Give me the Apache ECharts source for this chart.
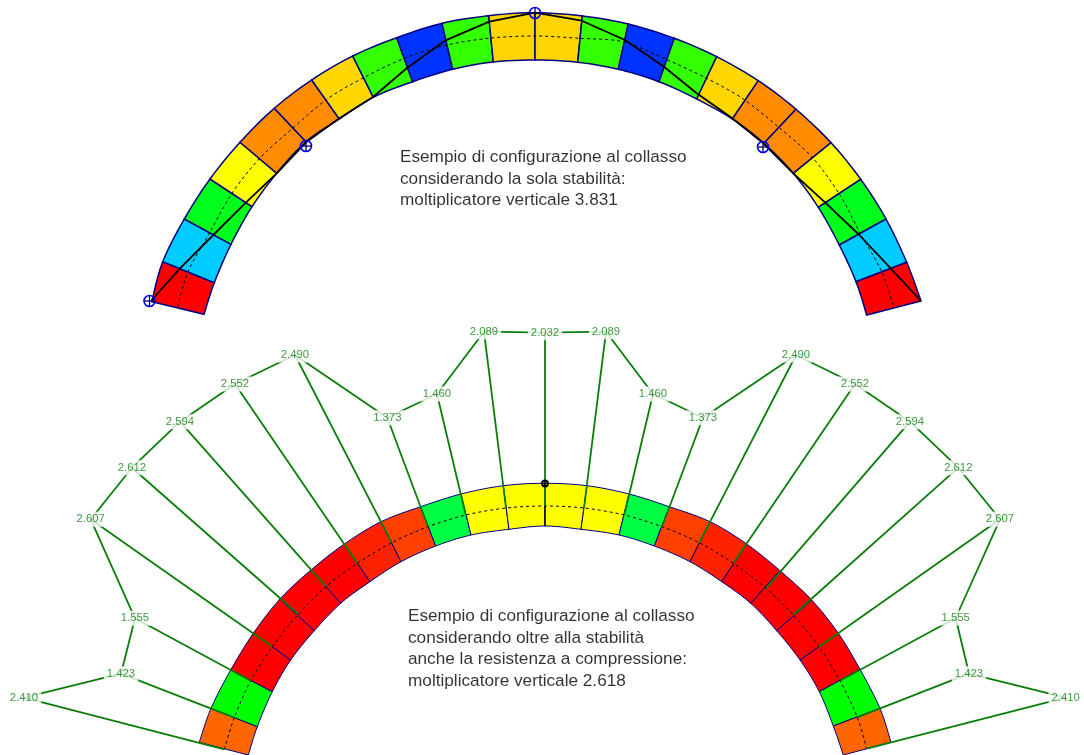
<!DOCTYPE html>
<html><head><meta charset="utf-8">
<style>html,body{margin:0;padding:0;background:#fff}#c{width:1084px;height:755px}</style>
<script src="https://cdn.jsdelivr.net/npm/echarts@6/dist/echarts.min.js"></script>
</head><body><div id="c"></div>
<script>
// Picture readings: the two arches, joint by joint from left to right
const topOuter = [[151.7,301.7],[162.7,261.7],[184.3,219],[210,179],[240,142.3],[274.3,108.3],[311.7,80],[352.7,56],[396.7,37.7],[442,23.3],[488.7,15.7],[535,12.7],[582.3,16],[628.3,24],[674.3,38.3],[716.7,56.7],[758.3,80.7],[796,109.3],[831,142.7],[860.7,179.3],[886,219],[906.7,262.3],[921,301]];
const topInner = [[204,314.3],[214.3,282.7],[231,244.3],[252,206.7],[276.7,173.3],[306,141.7],[339.3,119],[373.3,97.3],[412.7,81.7],[452.7,69.3],[493.3,62],[535,60],[577.7,62.3],[618.3,69.3],[659,81.7],[696.7,99],[732.3,119],[764,143.3],[793.3,173.3],[818.3,207.3],[839.3,245],[856,281.7],[866.7,315]];
const topMid = [[177.7,306.7],[188,271.7],[210,232],[233,191.7],[260,158],[293,128],[326.7,99.3],[363,78],[405,58],[446.7,45],[491,38],[535,36],[579.3,38.3],[623,41.7],[666,59.3],[706.7,78.3],[743.3,99],[780,128.3],[811.7,156.7],[840,195],[860,233],[881.7,271.7],[894,308]];
const topThrust = [[151.7,300],[180,268.3],[213.3,235],[245,203.3],[276.7,173.3],[306.7,141.7],[338.3,119],[373.3,96.7],[406.7,68.3],[445,40.7],[489.3,21.7],[535,12.7],[581.7,20.7],[625,40],[664,66.7],[696.7,93.3],[732.3,118.3],[763.3,143.3],[793.3,173.3],[825,202.3],[859.3,235],[890.7,268.3],[921,301]];
const topHinges = [[149.5,301],[306,146],[535,13],[763,147]];
const topColors = ['#FF0000','#00CCFF','#00FF1A','#FFFF00','#FF8C00','#FF8C00','#FFD700','#33FF00','#0033FF','#33FF00','#FFD500','#FFD500','#33FF00','#0033FF','#33FF00','#FFD700','#FF8C00','#FF8C00','#FFFF00','#00FF1A','#00CCFF','#FF0000'];

const botOuter = [[199.3,742.3],[211,708.3],[230.7,670],[253.3,633.3],[280,599],[311,570],[344.3,544],[381,521.7],[420.7,506.7],[461,494],[503.3,485.7],[545,483.3],[587,485.7],[629,494],[669.3,506.7],[710,521.7],[746.7,544],[780,570.7],[811.7,600],[838.3,633.3],[860,669.3],[880,708.3],[891,742.3]];
const botInner = [[248.3,755],[257.3,726.7],[272.3,691.7],[290.7,660],[314.3,630.7],[340.7,603.3],[370,581.7],[401,561.7],[435.7,546],[471,535],[509,529.3],[545,526],[581,529.3],[619,535],[654.3,546],[690,561.7],[721.7,581.7],[750.7,603.3],[776.7,630.7],[800,660],[819.3,691.7],[833.3,726],[843.3,755]];
const botMid = [[224.3,749.3],[234.3,717.7],[250.7,680.7],[272.3,646.7],[298.3,614.3],[326,586.7],[357.3,563.3],[391.7,542.7],[428,526.7],[465.7,515],[506,508],[545,506],[584,508],[624.3,515],[662,526.7],[699.3,542.7],[733.3,563.3],[766,588.3],[793.3,615],[819,646.7],[840,680.7],[857.3,717.3],[866.7,748.7]];
const botColors = ['#FF6600','#00FF00','#FF0000','#FF0000','#FF0000','#FF0000','#FF2200','#FF4000','#00FF44','#FFFF00','#FFFF00','#FFFF00','#FFFF00','#00FF44','#FF4000','#FF2200','#FF0000','#FF0000','#FF0000','#FF0000','#00FF00','#FF6600'];

const multipliers = ['2.410','1.423','1.555','2.607','2.612','2.594','2.552','2.490','1.373','1.460','2.089','2.032','2.089','1.460','1.373','2.490','2.552','2.594','2.612','2.607','1.555','1.423','2.410'];
const multiplierPos = [[24,697.7],[121,673.7],[135,618.3],[90.7,519.3],[132,467.7],[180,421.7],[235,384],[295,355],[387.3,417.7],[437,394],[484,331.7],[545,332.7],[606,331.7],[653,394],[703,417.7],[796,355],[855,384],[910,421.7],[958.3,467.7],[1000,519.3],[955.7,618],[969,673.7],[1065.7,697.7]];
const crownPoint = [[545,483.5]];

const noteLines = [
  'Esempio di configurazione al collasso','considerando la sola stabilità:','moltiplicatore verticale 3.831',
  'Esempio di configurazione al collasso','considerando oltre alla stabilità','anche la resistenza a compressione:','moltiplicatore verticale 2.618'];
const notePos = [[400,157],[400,179],[400,200],[408,616],[408,638],[408,659],[408,681]];

const NAVY = '#000080', GREEN = '#0A7D0A';

// Smooth the edge through the read joints (Catmull-Rom), so blocks follow the arch curve
function edge(line, i, steps) {
  const p0 = line[Math.max(i - 1, 0)], p1 = line[i], p2 = line[i + 1], p3 = line[Math.min(i + 2, line.length - 1)];
  const out = [];
  for (let k = 0; k <= steps; k++) {
    const t = k / steps, t2 = t * t, t3 = t2 * t;
    out.push([0, 1].map(d => 0.5 * (2 * p1[d] + (p2[d] - p0[d]) * t + (2 * p0[d] - 5 * p1[d] + 4 * p2[d] - p3[d]) * t2 + (3 * p1[d] - p0[d] - 3 * p2[d] + p3[d]) * t3)));
  }
  return out;
}
function blocks(name, outer, inner, colors, lw) {
  return {
    type: 'custom', name, silent: true, animation: false, z: 2, clip: false,
    data: colors.map((c, i) => [i]),
    renderItem(params, api) {
      const i = api.value(0);
      const pts = edge(outer, i, 6).concat(edge(inner, i, 6).reverse()).map(p => api.coord(p));
      return { type: 'polygon', shape: { points: pts }, style: { fill: colors[i], stroke: NAVY, lineWidth: lw } };
    }
  };
}
function poly(name, data, color, width, type, z, smooth) {
  return { type: 'line', name, data, showSymbol: false, silent: true, animation: false, z, clip: false, smooth: smooth || false,
    lineStyle: { color, width, type: type || 'solid', cap: 'butt' } };
}
function spokes(name, from, to, color, width, z) {
  return { type: 'custom', name, silent: true, animation: false, z, clip: false,
    data: from.map((c, i) => [i]),
    renderItem(params, api) {
      const i = api.value(0);
      const a = api.coord(from[i]), b = api.coord(to[i]);
      return { type: 'line', shape: { x1: a[0], y1: a[1], x2: b[0], y2: b[1] }, style: { stroke: color, lineWidth: width } };
    }
  };
}
function hinges(name, pts, color, r, w, crossColor) {
  return { type: 'custom', name, silent: true, animation: false, z: 8, clip: false,
    data: pts,
    renderItem(params, api) {
      const c = api.coord([api.value(0), api.value(1)]);
      const st = { stroke: color, lineWidth: w, fill: null };
      const cr = { stroke: crossColor, lineWidth: w * 0.8, fill: null };
      return { type: 'group', children: [
        { type: 'circle', shape: { cx: c[0], cy: c[1], r }, style: st },
        { type: 'line', shape: { x1: c[0] - r, y1: c[1], x2: c[0] + r, y2: c[1] }, style: cr },
        { type: 'line', shape: { x1: c[0], y1: c[1] - r, x2: c[0], y2: c[1] + r }, style: cr }
      ] };
    }
  };
}

const chart = echarts.init(document.getElementById('c'), null, { renderer: 'canvas' });
chart.setOption({
  animation: false,
  backgroundColor: '#fff',
  grid: { left: 0, right: 0, top: 0, bottom: 0 },
  xAxis: { type: 'value', min: 0, max: 1084, show: false },
  yAxis: { type: 'value', min: 0, max: 755, inverse: true, show: false },
  series: [
    blocks('top blocks', topOuter, topInner, topColors, 1.5),
    poly('top centre line', topMid, '#000', 1, [3, 3], 3, 0.3),
    poly('top thrust line', topThrust, '#000', 1.8, null, 4),
    hinges('top hinges', topHinges, '#0000FF', 5.5, 1.6, '#000060'),
    blocks('bottom blocks', botOuter, botInner, botColors, 1),
    poly('bottom centre line', botMid, '#000', 1, [3, 3], 3, 0.3),
    spokes('crown joint', [[545, 506]], [[545, 526]], '#000', 1.2, 4),
    spokes('multiplier spokes', multiplierPos, botMid, GREEN, 1.8, 5),
    poly('multiplier chain', multiplierPos, GREEN, 1.8, null, 5),
    hinges('crown point', crownPoint, '#000', 3, 1.8, '#000'),
    {
      type: 'scatter', name: 'multipliers', silent: true, animation: false, z: 9, clip: false,
      symbolSize: 0,
      data: multiplierPos.map((p, i) => ({ value: p, name: multipliers[i] })),
      label: { show: true, position: 'inside', formatter: '{b}', color: '#118011',
        fontFamily: 'Liberation Sans', fontSize: 11.3, backgroundColor: '#fff', padding: [2, 3] }
    },
    {
      type: 'scatter', name: 'notes', silent: true, animation: false, z: 9, clip: false,
      symbolSize: 0,
      data: notePos.map((p, i) => ({ value: p, name: noteLines[i] })),
      label: { show: true, position: 'right', distance: 0, formatter: '{b}', color: '#000',
        fontFamily: 'Liberation Sans', fontSize: 17.2 }
    }
  ]
});
</script></body></html>
